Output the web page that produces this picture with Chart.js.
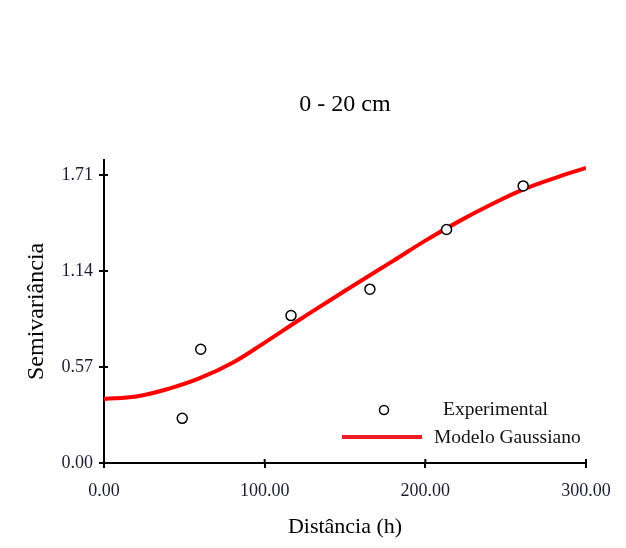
<!DOCTYPE html>
<html>
<head>
<meta charset="utf-8">
<script src="https://cdn.jsdelivr.net/npm/chart.js@4.4.0/dist/chart.umd.min.js"></script>
<style>
  html, body { margin: 0; padding: 0; background: #fff; }
  #wrap { width: 626px; height: 548px; }
</style>
</head>
<body>
<div id="wrap"><canvas id="semivar" width="626" height="548"></canvas></div>
<script>
// experimental semivariance points
const expDist = [48.7, 60.2, 116.4, 165.5, 213.2, 260.9];
const expGamma = [0.265, 0.675, 0.875, 1.032, 1.386, 1.645];

// fitted gaussian model
const modelDist = [0, 20, 40, 60, 80, 100, 120, 140, 160, 180, 200, 220, 240, 260, 280, 300];
const modelGamma = [0.38, 0.395, 0.44, 0.505, 0.595, 0.715, 0.84, 0.962, 1.082, 1.20, 1.32, 1.43, 1.53, 1.62, 1.69, 1.752];

const yTicks = [0, 0.57, 1.14, 1.71];
const xTicks = [0, 100, 200, 300];

const serif = "'Liberation Serif', 'Times New Roman', serif";
const tickColor = '#1c1c30';

const toXY = (xs, ys) => xs.map((x, i) => ({ x: x, y: ys[i] }));

// ticks in the original cross the axis, chart.js only draws the outer half
const innerTicks = {
    id: 'innerTicks',
    afterDatasetsDraw(chart) {
        const c = chart.ctx, a = chart.chartArea;
        c.save();
        c.strokeStyle = '#000';
        c.lineWidth = 2;
        chart.scales.x.ticks.forEach(t => {
            const px = chart.scales.x.getPixelForValue(t.value);
            c.beginPath(); c.moveTo(px, a.bottom); c.lineTo(px, a.bottom - 4); c.stroke();
        });
        chart.scales.y.ticks.forEach(t => {
            const py = chart.scales.y.getPixelForValue(t.value);
            c.beginPath(); c.moveTo(a.left, py); c.lineTo(a.left + 4, py); c.stroke();
        });
        c.restore();
    }
};

// legend sits inside the plot, lower right
const boxLegend = {
    id: 'boxLegend',
    afterDraw(chart) {
        const c = chart.ctx, a = chart.chartArea;
        const ds = chart.data.datasets;
        c.save();
        c.font = '19.5px ' + serif;
        c.textBaseline = 'middle';
        c.textAlign = 'left';

        // points entry
        c.beginPath();
        c.arc(a.right - 202, a.bottom - 53, 4.5, 0, Math.PI * 2);
        c.fillStyle = '#fff';
        c.fill();
        c.lineWidth = 1.5;
        c.strokeStyle = '#000';
        c.stroke();
        c.fillStyle = '#111';
        c.fillText(ds[1].label, a.right - 143, a.bottom - 53);

        // line entry
        c.beginPath();
        c.moveTo(a.right - 244, a.bottom - 26);
        c.lineTo(a.right - 164, a.bottom - 26);
        c.lineWidth = 4;
        c.strokeStyle = '#ee1c24';
        c.stroke();
        c.fillText(ds[0].label, a.right - 152, a.bottom - 25);
        c.restore();
    }
};

new Chart(document.getElementById('semivar'), {
    type: 'scatter',
    data: {
        datasets: [{
            label: 'Modelo Gaussiano',
            data: toXY(modelDist, modelGamma),
            showLine: true,
            borderColor: '#ff0000',
            borderWidth: 4,
            pointRadius: 0,
            tension: 0.4,
            order: 2
        }, {
            label: 'Experimental',
            data: toXY(expDist, expGamma),
            showLine: false,
            pointRadius: 5,
            pointBorderWidth: 1.5,
            pointBorderColor: '#000',
            pointBackgroundColor: '#fff',
            order: 1
        }]
    },
    options: {
        responsive: false,
        animation: false,
        events: [],
        layout: { padding: { left: 0, right: 40, top: 0, bottom: 0 } },
        plugins: {
            legend: { display: false },
            tooltip: { enabled: false },
            title: {
                display: true,
                fullSize: false,
                text: '0 - 20 cm',
                color: '#000',
                font: { family: serif, size: 24, weight: 'normal' },
                padding: { top: 90, bottom: 41 }
            }
        },
        scales: {
            x: {
                type: 'linear',
                min: 0,
                max: 300,
                afterBuildTicks: s => { s.ticks = xTicks.map(v => ({ value: v })); },
                afterFit: s => { s.height = 85; },
                ticks: {
                    color: tickColor,
                    font: { family: serif, size: 18 },
                    padding: 12,
                    maxRotation: 0,
                    callback: v => v.toFixed(2)
                },
                grid: { drawOnChartArea: false, drawTicks: true, tickLength: 5, color: '#000', lineWidth: 2 },
                border: { display: true, color: '#000', width: 2 },
                title: {
                    display: true,
                    text: 'Distância (h)',
                    color: '#000',
                    font: { family: serif, size: 22 },
                    padding: { top: 0, bottom: 8 }
                }
            },
            y: {
                type: 'linear',
                min: 0,
                max: 1.8,
                afterBuildTicks: s => { s.ticks = yTicks.map(v => ({ value: v })); },
                afterFit: s => { s.width = 104; },
                ticks: {
                    color: tickColor,
                    font: { family: serif, size: 18 },
                    padding: 6,
                    callback: v => v.toFixed(2)
                },
                grid: { drawOnChartArea: false, drawTicks: true, tickLength: 5, color: '#000', lineWidth: 2 },
                border: { display: true, color: '#000', width: 2 },
                title: {
                    display: true,
                    text: 'Semivariância',
                    color: '#000',
                    font: { family: serif, size: 24 },
                    padding: { top: 22, bottom: 0 }
                }
            }
        }
    },
    plugins: [innerTicks, boxLegend]
});
</script>
</body>
</html>
